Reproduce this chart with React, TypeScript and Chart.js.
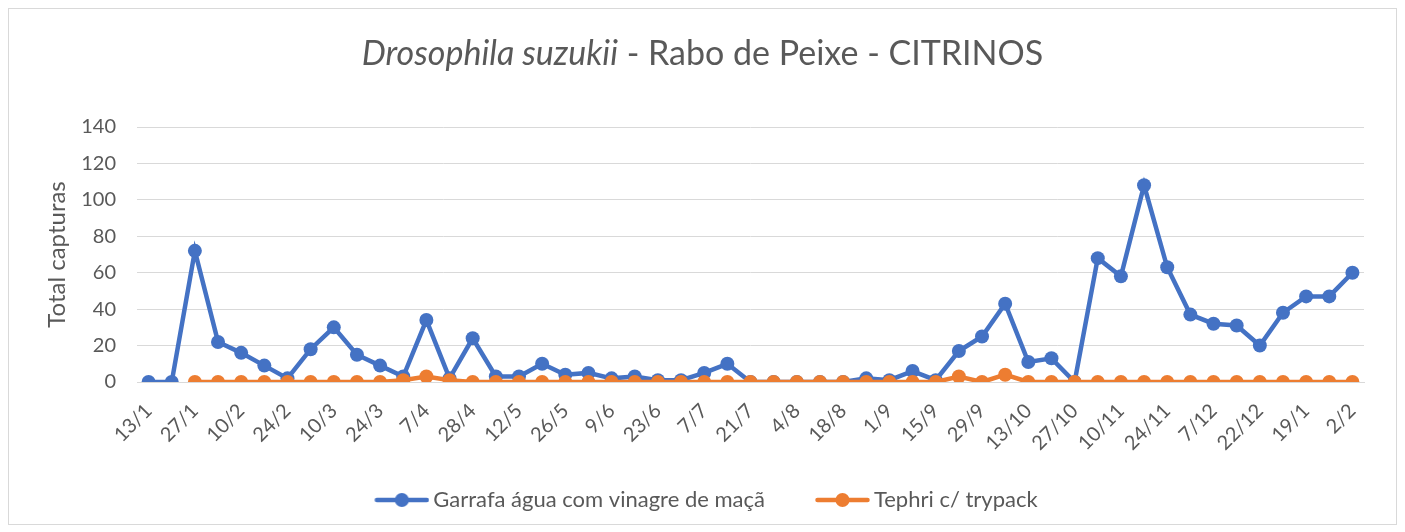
import React, { useEffect, useRef } from "react";
import { Chart, registerables } from "chart.js";

Chart.register(...registerables);

const labels = ['13/1','20/1','27/1','3/2','10/2','17/2','24/2','3/3','10/3','17/3','24/3','31/3','7/4','21/4','28/4','5/5','12/5','19/5','26/5','2/6','9/6','16/6','23/6','30/6','7/7','14/7','21/7','28/7','4/8','11/8','18/8','25/8','1/9','8/9','15/9','22/9','29/9','6/10','13/10','20/10','27/10','3/11','10/11','17/11','24/11','1/12','7/12','15/12','22/12','5/1','19/1','26/1','2/2'];

const garrafa = [0,0,72,22,16,9,2,18,30,15,9,3,34,2,24,3,3,10,4,5,2,3,1,1,5,10,0,0,0,0,0,2,1,6,1,17,25,43,11,13,0,68,58,108,63,37,32,31,20,38,47,47,60];

const tephri = [null,null,0,0,0,0,0,0,0,0,0,1,3,1,0,0,0,0,0,0,0,0,0,0,0,0,0,0,0,0,0,0,0,0,0,3,0,4,0,0,0,0,0,0,0,0,0,0,0,0,0,0,0];

const seriesNames = ["Garrafa água com vinagre de maçã", "Tephri c/ trypack"];
const seriesColors = ["#4472C4", "#ED7D31"];
const yTicks = [0, 20, 40, 60, 80, 100, 120, 140];

const FONT = "Lato, 'Open Sans', sans-serif";
const TEXT = "#595959";

function legendIcon(color: string): HTMLCanvasElement {
  const c = document.createElement("canvas");
  c.width = 62;
  c.height = 16;
  const ctx = c.getContext("2d")!;
  ctx.strokeStyle = color;
  ctx.lineWidth = 4.5;
  ctx.lineCap = "round";
  ctx.beginPath();
  ctx.moveTo(9.5, 8);
  ctx.lineTo(59.5, 8);
  ctx.stroke();
  ctx.fillStyle = color;
  ctx.beginPath();
  ctx.arc(34.5, 8, 7, 0, Math.PI * 2);
  ctx.fill();
  return c;
}

const titlePlugin = {
  id: "mixedTitle",
  afterDraw(chart: any) {
    const ctx = chart.ctx;
    const part1 = "Drosophila suzukii";
    const part2 = " - Rabo de Peixe - CITRINOS";
    const size = 34;
    ctx.save();
    ctx.fillStyle = TEXT;
    ctx.textBaseline = "middle";
    ctx.font = `italic ${size}px ${FONT}`;
    const w1 = ctx.measureText(part1).width;
    ctx.font = `${size}px ${FONT}`;
    const w2 = ctx.measureText(part2).width;
    const x0 = chart.width / 2 - (w1 + w2) / 2;
    const y = 45;
    ctx.font = `italic ${size}px ${FONT}`;
    ctx.textAlign = "left";
    ctx.fillText(part1, x0, y);
    ctx.font = `${size}px ${FONT}`;
    ctx.fillText(part2, x0 + w1, y);
    ctx.restore();
  },
};

export default function App() {
  const ref = useRef<HTMLCanvasElement>(null);
  useEffect(() => {
    const chart = new Chart(ref.current!, {
      type: "line",
      data: {
        labels,
        datasets: [
          {
            label: seriesNames[0],
            data: garrafa,
            borderColor: seriesColors[0],
            backgroundColor: seriesColors[0],
            borderWidth: 4.5,
            pointRadius: 7,
            pointHoverRadius: 7,
            pointBorderWidth: 0,
            tension: 0,
            order: 2,
          },
          {
            label: seriesNames[1],
            data: tephri,
            borderColor: seriesColors[1],
            backgroundColor: seriesColors[1],
            borderWidth: 4.5,
            pointRadius: 7,
            pointHoverRadius: 7,
            pointBorderWidth: 0,
            tension: 0,
            order: 1,
          },
        ],
      },
      options: {
        animation: false,
        responsive: false,
        maintainAspectRatio: false,
        layout: { padding: { top: 118, right: 32, left: 39, bottom: 3 } },
        plugins: {
          title: { display: false },
          tooltip: { enabled: false },
          legend: {
            position: "bottom",
            labels: {
              usePointStyle: true,
              pointStyleWidth: 48,
              padding: 50,
              color: TEXT,
              font: { family: FONT, size: 22 },
              sort: (a: any, b: any) => a.datasetIndex - b.datasetIndex,
              generateLabels(ch: any) {
                const items = Chart.defaults.plugins.legend.labels.generateLabels(ch);
                items.forEach((it: any) => {
                  it.pointStyle = legendIcon(seriesColors[it.datasetIndex]);
                });
                return items;
              },
            },
          },
        },
        scales: {
          x: {
            offset: true,
            grid: { display: false },
            border: { display: true, color: "#d9d9d9", width: 1 },
            ticks: {
              autoSkip: false,
              maxRotation: 45,
              minRotation: 45,
              padding: 9,
              color: TEXT,
              font: { family: FONT, size: 20 },
              callback: (_v: any, i: number) => (i % 2 === 0 ? labels[i] : ""),
            },
            afterFit: (s: any) => {
              s.height = 57;
              s._computeLabelArea = () => undefined;
            },
          },
          y: {
            min: 0,
            max: 140,
            afterBuildTicks: (s: any) => {
              s.ticks = yTicks.map((v) => ({ value: v }));
            },
            grid: { color: "#d9d9d9", lineWidth: 1, drawTicks: false },
            border: { display: false },
            title: {
              display: true,
              text: "Total capturas",
              color: TEXT,
              font: { family: FONT, size: 24 },
              padding: { top: -5, bottom: 0 },
            },
            ticks: {
              color: TEXT,
              padding: 21,
              font: { family: FONT, size: 20 },
            },
            afterFit: (s: any) => {
              s.width = 89;
            },
          },
        },
      },
      plugins: [titlePlugin],
    });
    return () => chart.destroy();
  }, []);
  return (
    <div
      style={{
        width: 1389,
        height: 517,
        border: "1px solid #d9d9d9",
        boxSizing: "border-box",
        background: "#fff",
      }}
    >
      <canvas ref={ref} width={1387} height={515} style={{ display: "block" }} />
    </div>
  );
}
